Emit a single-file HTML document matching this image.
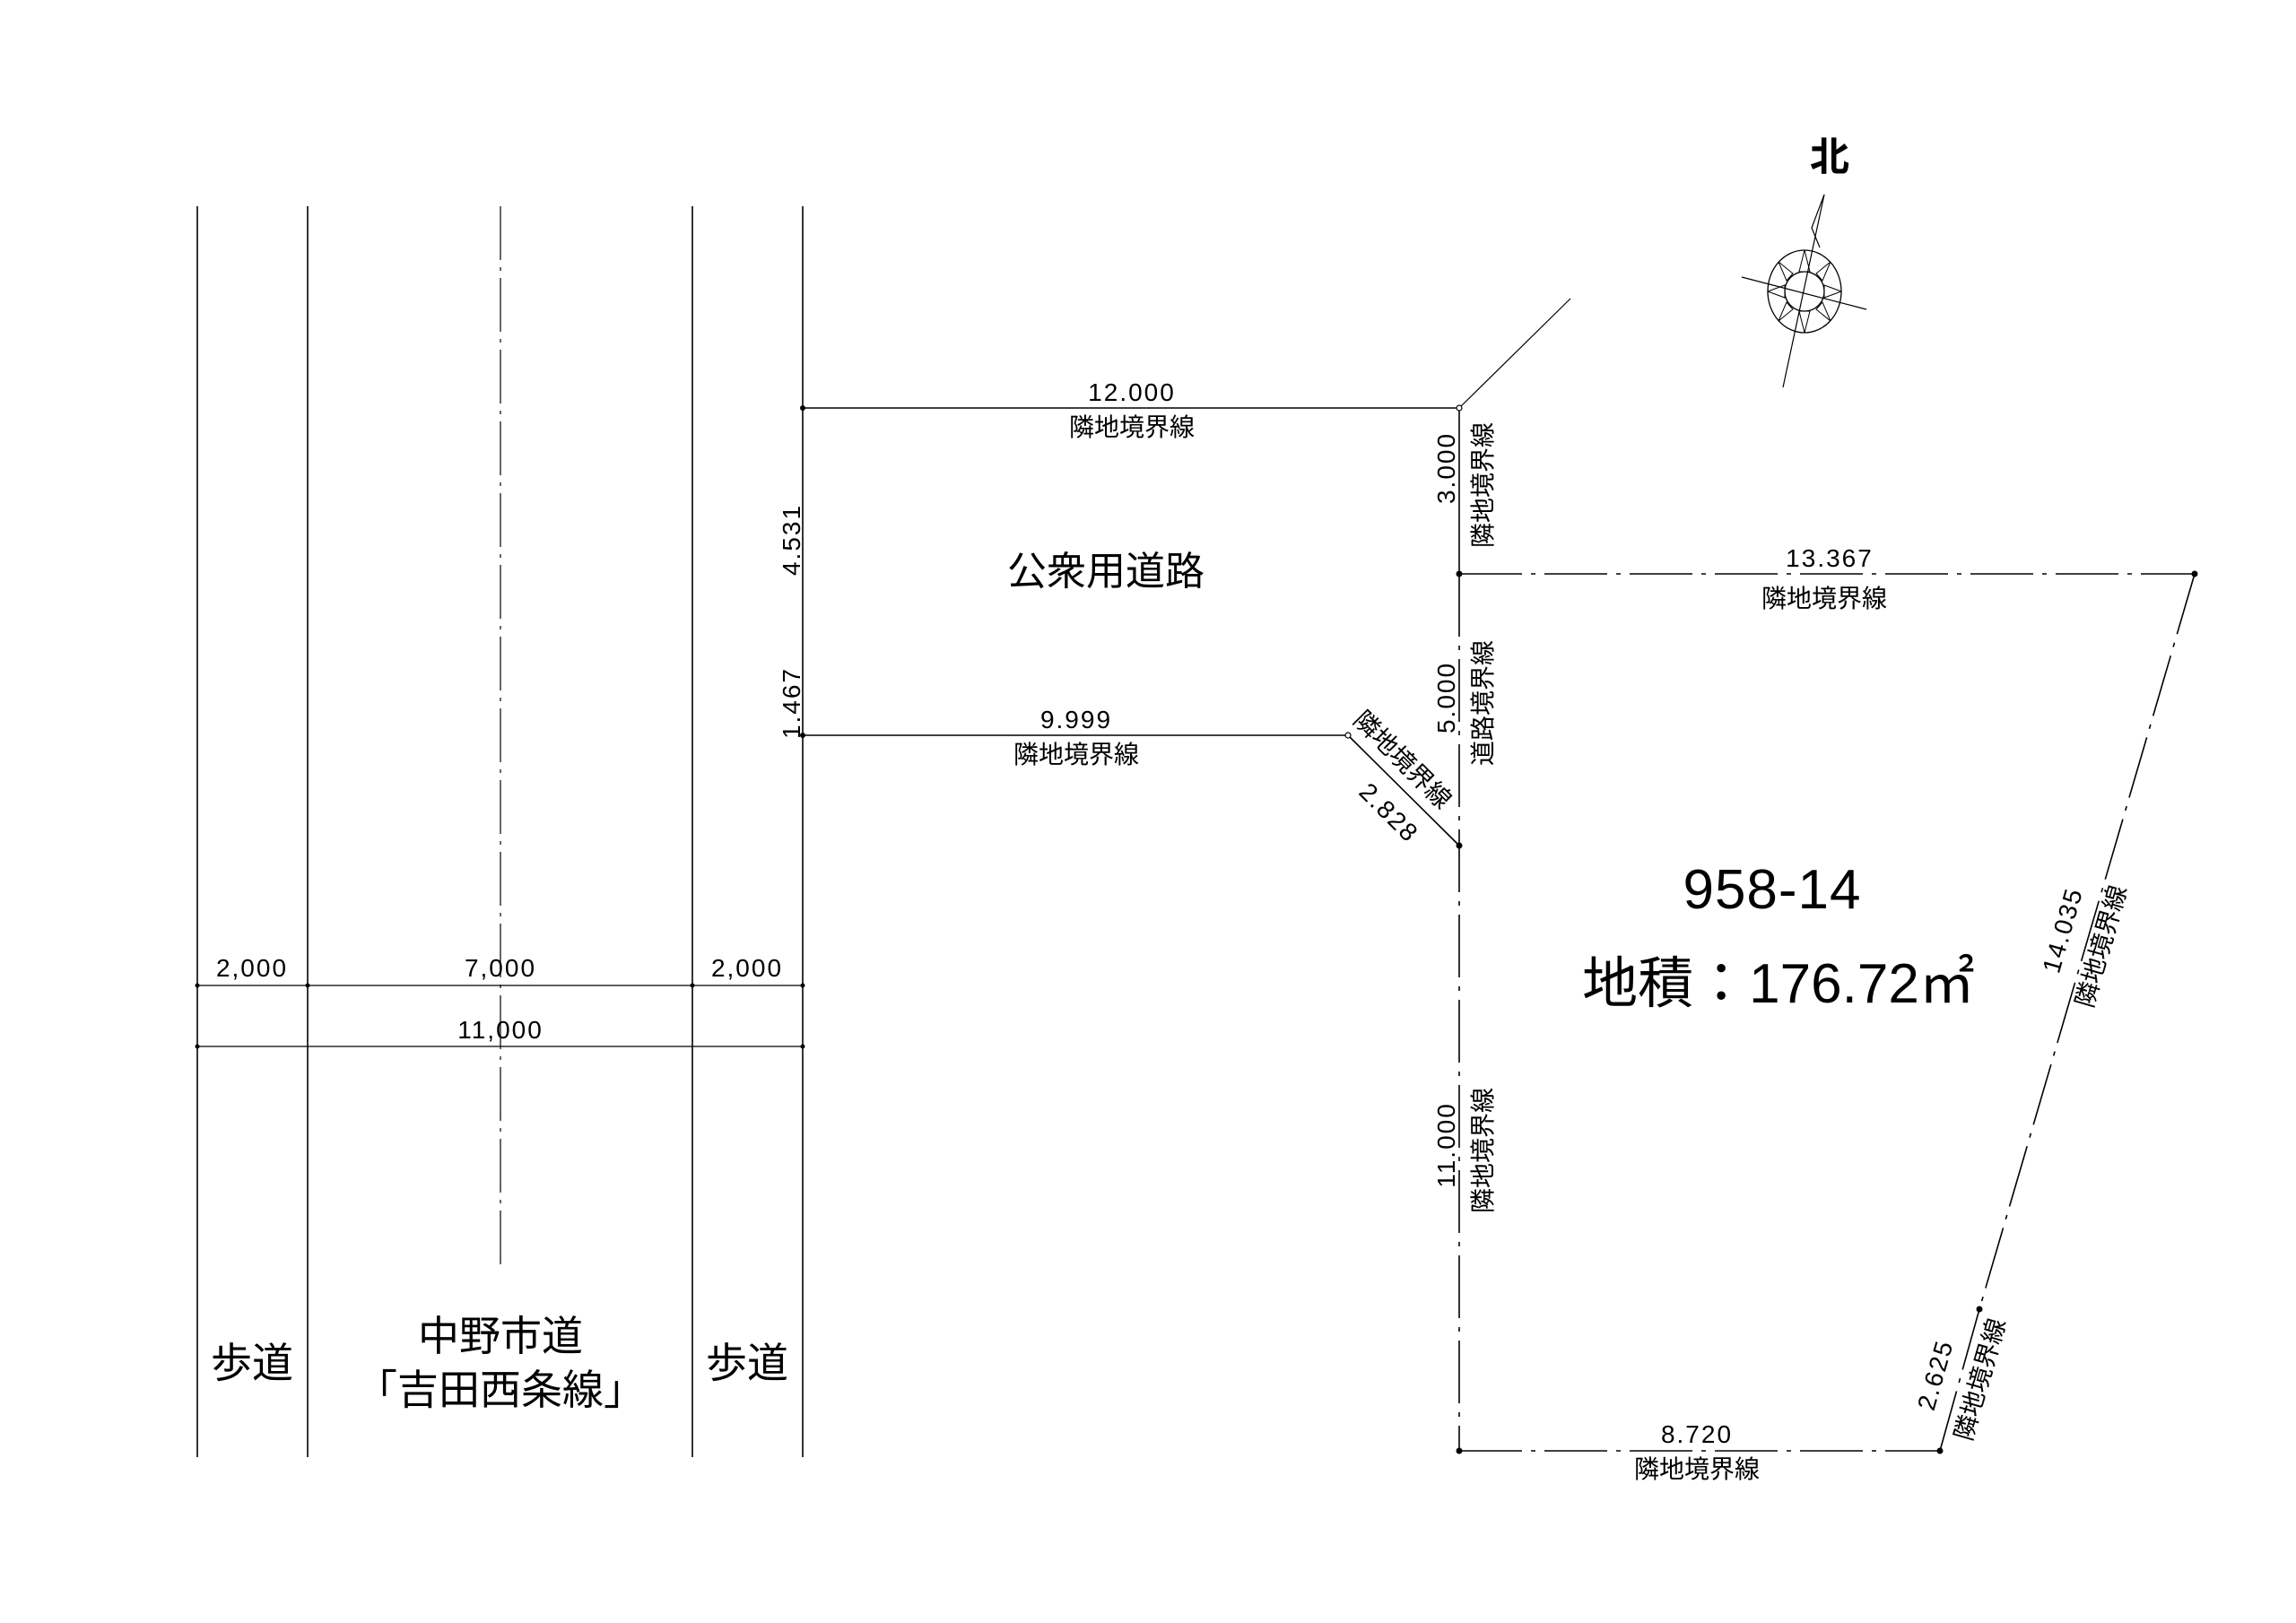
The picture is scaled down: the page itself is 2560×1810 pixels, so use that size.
<!DOCTYPE html>
<html><head><meta charset="utf-8"><style>
html,body{margin:0;padding:0;background:#fff}
svg{display:block}
text{font-family:"Liberation Sans","Noto Sans CJK JP",sans-serif;fill:#000}
.n{font-size:28px;letter-spacing:2px}
.j{font-size:28px}
</style></head><body>
<svg width="2560" height="1810" viewBox="0 0 2560 1810" xmlns="http://www.w3.org/2000/svg">
<g transform="translate(-3 0)">
<g stroke="#000" stroke-width="1.6" fill="none">
<line x1="223" y1="230" x2="223" y2="1625"/>
<line x1="346" y1="230" x2="346" y2="1625"/>
<line x1="775" y1="230" x2="775" y2="1625"/>
<line x1="898" y1="230" x2="898" y2="1625"/>
<line x1="561" y1="230" x2="561" y2="1411" stroke-dasharray="60,8,4,8" stroke-width="1.2"/>
<line x1="223" y1="1099" x2="898" y2="1099" stroke-width="1.2"/>
<line x1="223" y1="1167" x2="898" y2="1167" stroke-width="1.2"/>
<line x1="898" y1="455" x2="1630" y2="455"/>
<line x1="1630" y1="455" x2="1754" y2="333" stroke-width="1.2"/>
<line x1="1630" y1="455" x2="1630" y2="640"/>
<line x1="898" y1="820" x2="1506" y2="820"/>
<line x1="1506" y1="820" x2="1630" y2="943"/>
<g stroke-dasharray="70,10,5,10">
<line x1="1630" y1="640" x2="2450" y2="640"/>
<line x1="1630" y1="640" x2="1630" y2="1618"/>
<line x1="1630" y1="1618" x2="2166" y2="1618"/>
<line x1="2450" y1="640" x2="2210" y2="1460"/>
<line x1="2210" y1="1460" x2="2166" y2="1618"/>
</g>
<line x1="2037" y1="217" x2="1991" y2="432" stroke-width="1.2"/>
<polyline points="2037,217 2023,254 2032,276" stroke-width="1.2"/>
<line x1="1945" y1="309" x2="2084" y2="345" stroke-width="1.2"/>
<ellipse cx="2015" cy="325" rx="41" ry="46" stroke-width="1.3"/>
<circle cx="2015" cy="325" r="22" stroke-width="1.3"/>
</g>
<g fill="#000">
<circle cx="898" cy="455" r="3"/><circle cx="898" cy="820" r="3"/>
<circle cx="1630" cy="640" r="3.5"/><circle cx="1630" cy="943" r="3.5"/>
<circle cx="2450" cy="640" r="3.5"/><circle cx="2210" cy="1460" r="3.5"/>
<circle cx="1630" cy="1618" r="3.5"/><circle cx="2166" cy="1618" r="3.5"/>
<circle cx="223" cy="1099" r="2.5"/><circle cx="346" cy="1099" r="2.5"/><circle cx="775" cy="1099" r="2.5"/><circle cx="898" cy="1099" r="2.5"/>
<circle cx="223" cy="1167" r="2.5"/><circle cx="898" cy="1167" r="2.5"/>
</g>
<circle cx="1630" cy="455" r="3" fill="#fff" stroke="#000" stroke-width="1.2"/>
<circle cx="1506" cy="820" r="3" fill="#fff" stroke="#000" stroke-width="1.2"/>
<g stroke="#000" stroke-width="1" fill="none">
<polyline points="2015,279 2009,303 2021,303 2015,279"/>
<polyline points="2056,325 2037,318 2037,332 2056,325"/>
<polyline points="2015,371 2009,347 2021,347 2015,371"/>
<polyline points="1974,325 1993,318 1993,332 1974,325"/>
<polyline points="2044,292 2028,305 2035,313 2044,292"/>
<polyline points="2044,358 2028,345 2035,337 2044,358"/>
<polyline points="1986,358 2002,345 1995,337 1986,358"/>
<polyline points="1986,292 2002,305 1995,313 1986,292"/>
</g>
<g text-anchor="middle">
<text x="284" y="1089" class="n">2,000</text>
<text x="561" y="1089" class="n">7,000</text>
<text x="836" y="1089" class="n">2,000</text>
<text x="561" y="1158" class="n">11,000</text>
<text x="284" y="1536" style="font-size:46px">歩道</text>
<text x="836" y="1536" style="font-size:46px">歩道</text>
<text x="561" y="1506" style="font-size:46px">中野市道</text>
<text x="561" y="1566" style="font-size:46px">「吉田西条線」</text>
<text x="1236" y="652" style="font-size:44px">公衆用道路</text>
<text x="1265" y="447" class="n">12.000</text>
<text x="1265" y="486" class="j">隣地境界線</text>
<text x="1203" y="812" class="n">9.999</text>
<text x="1203" y="851" class="j">隣地境界線</text>
<text x="2043" y="632" class="n">13.367</text>
<text x="2037" y="677" class="j">隣地境界線</text>
<text x="1895" y="1609" class="n">8.720</text>
<text x="1895" y="1648" class="j">隣地境界線</text>
<text x="1979" y="1013" style="font-size:62px;letter-spacing:1px">958-14</text>
<text x="1986" y="1118" style="font-size:62px;letter-spacing:0px">地積：176.72㎡</text>
<text x="2043" y="190" style="font-size:44px;font-weight:bold">北</text>
<text transform="translate(1625 522) rotate(-90)" class="n">3.000</text>
<text transform="translate(1666 541) rotate(-90)" class="j">隣地境界線</text>
<text transform="translate(1625 778) rotate(-90)" class="n">5.000</text>
<text transform="translate(1666 784) rotate(-90)" class="j">道路境界線</text>
<text transform="translate(1625 1277) rotate(-90)" class="n">11.000</text>
<text transform="translate(1666 1283) rotate(-90)" class="j">隣地境界線</text>
<text transform="translate(895 602) rotate(-90)" class="n">4.531</text>
<text transform="translate(895 784) rotate(-90)" class="n">1.467</text>
<text transform="translate(1560 854) rotate(45)" class="j">隣地境界線</text>
<text transform="translate(1545 913) rotate(45)" class="n">2.828</text>
<text transform="translate(2312 1040) rotate(-74)" class="n">14.035</text>
<text transform="translate(2355 1058) rotate(-74)" class="j">隣地境界線</text>
<text transform="translate(2170 1536) rotate(-74)" class="n">2.625</text>
<text transform="translate(2220 1541) rotate(-74)" class="j">隣地境界線</text>
</g>
</g>
</svg>
</body></html>
